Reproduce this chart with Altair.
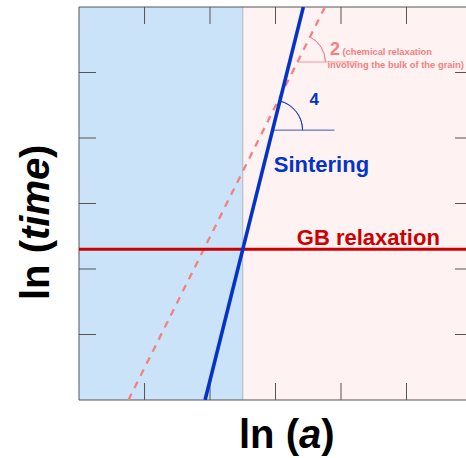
import math
import altair as alt
import pandas as pd

# ---------------- data ----------------
X_MAX = 387 / 65.5              # visible part of the 0..6 axis (right edge is cut off)
Y_DOMAIN = [0, 6]
region_start = [0.0, 2.5]
region_end = [2.5, 6.0]
region_name = ["fast", "slow"]
region_colors = ["#cae3f8", "#fff2f2"]

boundary_x = [2.5]
gb_time = [2.3]

sinter_a = [1.925, 3.425]       # slope 4
sinter_t = [0.0, 6.0]
chem_a = [0.755, 3.755]         # slope 2
chem_t = [0.0, 6.0]

tick_values = [1, 2, 3, 4, 5]

# angle markers: centre on the line, horizontal reference to the right
sinter_marker = {"a": 2.955, "a_end": 3.90, "t": 4.12}
chem_marker = {"a": 3.335, "a_end": 4.27, "t": 5.16}

FONT = "Liberation Sans"
BLUE = "#0433c8"
RED = "#cc0000"
SALMON = "#f48080"
GREY = "#555555"

xs = alt.Scale(domain=[0, X_MAX], nice=False, zero=False)
ys = alt.Scale(domain=Y_DOMAIN, nice=False, zero=False)


def X(f):
    return alt.X(f, type="quantitative", scale=xs, axis=None)


def Y(f):
    return alt.Y(f, type="quantitative", scale=ys, axis=None)


# backgrounds
bg = alt.Chart(pd.DataFrame({"x0": region_start, "x1": region_end,
                             "name": region_name})).mark_rect(clip=True).encode(
    x=X("x0"), x2="x1",
    y=alt.Y("lo:Q", scale=ys, axis=None), y2="hi:Q",
    color=alt.Color("name:N", scale=alt.Scale(domain=region_name, range=region_colors), legend=None),
).transform_calculate(lo="0", hi="6")

boundary = alt.Chart(pd.DataFrame({"x": boundary_x})).mark_rule(
    color="#aab4bc", strokeWidth=1).encode(x=X("x"))

# frame (left, bottom, top)
frame_v = alt.Chart(pd.DataFrame({"x": [0]})).mark_rule(color=GREY, strokeWidth=1).encode(x=X("x"))
frame_h = alt.Chart(pd.DataFrame({"t": [0, 6]})).mark_rule(color=GREY, strokeWidth=1).encode(y=Y("t"))

# inner ticks
tl = 0.26
tdf = pd.DataFrame({"v": tick_values})
ticks_b = alt.Chart(tdf).mark_rule(color=GREY, strokeWidth=1).encode(
    x=X("v"), y=alt.Y("a:Q", scale=ys, axis=None), y2="b:Q").transform_calculate(a="0", b=str(tl))
ticks_t = alt.Chart(tdf).mark_rule(color=GREY, strokeWidth=1).encode(
    x=X("v"), y=alt.Y("a:Q", scale=ys, axis=None), y2="b:Q").transform_calculate(a="6", b=str(6 - tl))
ticks_l = alt.Chart(tdf).mark_rule(color=GREY, strokeWidth=1).encode(
    y=Y("v"), x=alt.X("a:Q", scale=xs, axis=None), x2="b:Q").transform_calculate(a="0", b=str(tl))
ticks_r = alt.Chart(tdf).mark_rule(color=GREY, strokeWidth=1, clip=True).encode(
    y=Y("v"), x=alt.X("a:Q", scale=xs, axis=None), x2="b:Q").transform_calculate(a="6", b=str(6 - tl))

chem = alt.Chart(pd.DataFrame({"a": chem_a, "t": chem_t})).mark_line(
    color=SALMON, strokeWidth=2.3, strokeDash=[7, 6.5], clip=True).encode(x=X("a"), y=Y("t"))

sinter = alt.Chart(pd.DataFrame({"a": sinter_a, "t": sinter_t})).mark_line(
    color=BLUE, strokeWidth=3.6, clip=True).encode(x=X("a"), y=Y("t"))

gb = alt.Chart(pd.DataFrame({"t": gb_time})).mark_rule(
    color=RED, strokeWidth=3).encode(y=Y("t"))


# angle markers
def marker(m, color, radius, slope):
    df = pd.DataFrame([m])
    h = alt.Chart(df).mark_rule(color=color, strokeWidth=1, opacity=0.8).encode(
        x=X("a"), x2="a_end", y=Y("t"))
    theta = math.pi / 2 - math.atan(slope)
    arc = alt.Chart(df).mark_arc(filled=False, stroke=color, strokeWidth=1, opacity=0.8,
                                 radius=radius, radius2=radius,
                                 theta=theta, theta2=math.pi / 2).encode(x=X("a"), y=Y("t"))
    return h + arc


m_sinter = marker(sinter_marker, BLUE, 30, 4)
m_chem = marker(chem_marker, SALMON, 28, 2)


def label(text, a, t, color, size, align="left", weight="bold"):
    return alt.Chart(pd.DataFrame({"a": [a], "t": [t], "s": [text]})).mark_text(
        font=FONT, fontSize=size, fontWeight=weight, color=color, align=align,
        baseline="alphabetic").encode(x=X("a"), y=Y("t"), text="s:N")


def px_a(px):
    return (px - 79) / 65.5


def px_t(py):
    return (400 - py) / 65.5


labels = (
    label("GB relaxation", px_a(368.3), px_t(245), RED, 22, align="center")
    + label("Sintering", px_a(321.4), px_t(171.5), BLUE, 22, align="center")
    + label("4", px_a(314.3), px_t(105), BLUE, 17, align="center")
    + label("2", px_a(335), px_t(54.5), SALMON, 18, align="center")
    + label("(chemical relaxation", px_a(342.5), px_t(54.5), SALMON, 9.3)
    + label("involving the bulk of the grain)", px_a(327.5), px_t(68), SALMON, 9.4)
)


def title_seg(text, x, y, angle=0, italic=False):
    kw = dict(font=FONT, fontSize=40, fontWeight="bold", color="#000000",
              align="left", baseline="alphabetic")
    if angle:
        kw["angle"] = angle
    if italic:
        kw["fontStyle"] = "italic"
    return alt.Chart(pd.DataFrame({"s": [text]})).mark_text(**kw).encode(
        x=alt.value(x), y=alt.value(y), text="s:N")


x_title = (title_seg("ln (", 160, 440.5) + title_seg("a", 220, 440.5, italic=True)
           + title_seg(")", 242.2, 440.5))
y_title = (title_seg("ln (", -30, 293, angle=270)
           + title_seg("time", -30, 233, angle=270, italic=True)
           + title_seg(")", -30, 151, angle=270))

chart = alt.layer(
    bg, boundary, ticks_b, ticks_t, ticks_l, ticks_r, frame_v, frame_h,
    chem, m_chem, m_sinter, gb, sinter, labels, x_title, y_title,
).properties(
    width=387, height=393,
    autosize=alt.AutoSizeParams(type="none"),
    padding={"left": 79, "top": 7, "right": 0, "bottom": 58},
).configure_view(strokeWidth=0)

chart.save("out.html", embed_options={"renderer": "svg", "actions": False})
